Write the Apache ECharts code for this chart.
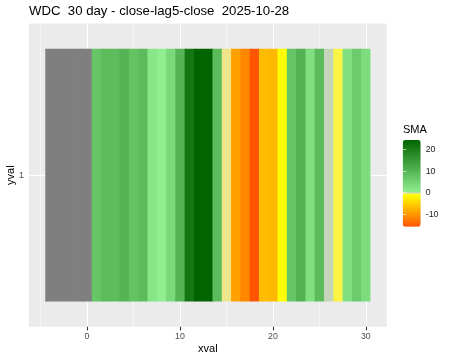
<!DOCTYPE html>
<html>
<head>
<meta charset="utf-8">
<script src="https://cdn.jsdelivr.net/npm/echarts@6/dist/echarts.min.js"></script>
<style>html,body{margin:0;padding:0;background:#fff;}#c{width:450px;height:360px;}</style>
</head>
<body>
<div id="c"></div>
<script>
// ---- data ----
const titleText = 'WDC  30 day - close-lag5-close  2025-10-28';
const xvals = [1,2,3,4,5,6,7,8,9,10,11,12,13,14,15,16,17,18,19,20,21,22,23,24,25,26,27,28,29,30];
const smaVals = [7.3,9.0,8.8,10.2,7.8,9.0,1.7,0.3,3.9,10.2,21.1,24.5,24.4,9.0,-0.3,-9.3,-11.4,-15.8,-6.9,-7.2,-1.0,7.3,10.7,2.9,9.0,0.0,-0.6,2.9,6.3,3.4];
const naXvals = [-4,-3,-2,-1,0];
const yCat = 1;
const xTicks = [0,10,20,30];
const xMinorTicks = [-5,5,15,25];
const legendTicks = [-10,0,10,20];
const smaMin = -15.8, smaMax = 24.5;

// ---- colour scale stops ----
const stops = [[-15.8,'#ff5500'],[-1,'#ffff00'],[-0.6,'#fbf543'],[-0.3,'#f0e68c'],[0,'#c8d0c8'],[0.2,'#90ee90'],[24.5,'#006400']];
function hex2rgb(h){return [parseInt(h.substr(1,2),16),parseInt(h.substr(3,2),16),parseInt(h.substr(5,2),16)];}
function colAt(v){
  if (v<=stops[0][0]) return stops[0][1];
  for (let i=1;i<stops.length;i++){
    if (v<=stops[i][0]){
      const a=hex2rgb(stops[i-1][1]), b=hex2rgb(stops[i][1]);
      const t=(v-stops[i-1][0])/(stops[i][0]-stops[i-1][0]);
      const c=a.map((x,k)=>Math.round(x+(b[k]-x)*t));
      return 'rgb('+c.join(',')+')';
    }
  }
  return stops[stops.length-1][1];
}
const N = 405;
const palette = [];
for (let i=0;i<N;i++){ palette.push(colAt(smaMin+(smaMax-smaMin)*i/(N-1))); }

const tileData = xvals.map((x,i)=>[x,yCat,smaVals[i]]);
const naData = naXvals.map(x=>[x,yCat]);

function tile(params, api){
  const x = api.value(0), y = api.value(1);
  const p0 = api.coord([x-0.5, y+0.5]);
  const p1 = api.coord([x+0.5, y-0.5]);
  const fill = params.seriesIndex === 0 ? api.visual('color') : '#7f7f7f';
  const isLast = params.seriesIndex === 0 && params.dataIndex === params.dataInsideLength - 1;
  const extra = isLast ? 0 : 0.7;
  return {type:'rect', shape:{x:p0[0], y:p0[1], width:p1[0]-p0[0] + extra, height:p1[1]-p0[1]},
          style:{fill: fill}};
}

const FONT = 'Liberation Sans';
const panel = {left:29, top:23.5, right:63.3, bottom:33.3};
const lg = {left:402.7, top:140, width:18, height:86.7};

const chart = echarts.init(document.getElementById('c'), null, {renderer:'canvas'});
chart.setOption({
  animation:false,
  textStyle:{fontFamily:FONT},
  title:[
    {text:titleText, left:29, top:4.5, padding:0, textStyle:{fontFamily:FONT, fontSize:13.2, fontWeight:'normal', color:'#000'}},
    {text:'SMA', left:403, top:124.5, padding:0, textStyle:{fontFamily:FONT, fontSize:11, fontWeight:'normal', color:'#000'}}
  ],
  grid:[
    {left:panel.left, top:panel.top, right:panel.right, bottom:panel.bottom, show:true, backgroundColor:'#ebebeb', borderWidth:0, containLabel:false, outerBoundsMode:'none'},
    {left:lg.left, top:lg.top, width:lg.width, height:lg.height, show:false, containLabel:false, outerBoundsMode:'none'}
  ],
  xAxis:[
    {type:'value', gridIndex:0, min:-6.25, max:32.25,
     name:'xval', nameLocation:'middle', nameGap:17, nameMoveOverlap:false, nameTextStyle:{fontFamily:FONT, fontSize:11, color:'#000'},
     axisLine:{show:false},
     axisTick:{show:true, length:3.7, lineStyle:{color:'#333333', width:1.07}, customValues:xTicks},
     axisLabel:{show:true, margin:5, fontSize:8.8, color:'#4d4d4d', fontFamily:FONT, customValues:xTicks},
     splitLine:{show:true, lineStyle:{color:'#ffffff', width:1.07}}
    },
    {type:'value', gridIndex:0, min:-6.25, max:32.25, position:'bottom',
     axisLine:{show:false},
     axisTick:{show:false, customValues:xMinorTicks},
     axisLabel:{show:false, customValues:xMinorTicks},
     splitLine:{show:true, lineStyle:{color:'#ffffff', width:0.53}}
    },
    {type:'value', gridIndex:1, min:0, max:1, show:false}
  ],
  yAxis:[
    {type:'value', gridIndex:0, min:0.4, max:1.6,
     name:'yval', nameLocation:'middle', nameGap:13, nameRotate:90, nameMoveOverlap:false, nameTextStyle:{fontFamily:FONT, fontSize:11, color:'#000'},
     axisLine:{show:false},
     axisTick:{show:true, length:3.7, lineStyle:{color:'#333333', width:1.07}, customValues:[yCat]},
     axisLabel:{show:true, margin:5, fontSize:8.8, color:'#4d4d4d', fontFamily:FONT, customValues:[yCat]},
     splitLine:{show:true, lineStyle:{color:'#ffffff', width:1.07}}
    },
    {type:'value', gridIndex:1, min:smaMin, max:smaMax, position:'right', z:20,
     axisLine:{show:false},
     axisTick:{show:true, inside:true, length:3.6, lineStyle:{color:'#ffffff', width:0.6}, customValues:legendTicks},
     axisLabel:{show:true, margin:5, fontSize:8.8, color:'#1a1a1a', fontFamily:FONT, customValues:legendTicks},
     splitLine:{show:false}
    },
    {type:'value', gridIndex:1, min:smaMin, max:smaMax, position:'left', z:20,
     axisLine:{show:false},
     axisTick:{show:true, inside:true, length:3.6, lineStyle:{color:'#ffffff', width:0.6}, customValues:legendTicks},
     axisLabel:{show:false, customValues:legendTicks},
     splitLine:{show:false}
    }
  ],
  visualMap:{
    type:'continuous', min:smaMin, max:smaMax, dimension:2, seriesIndex:0,
    calculable:false, hoverLink:false, realtime:false,
    left:lg.left, top:lg.top, itemWidth:lg.width, itemHeight:lg.height, padding:0,
    text:null, showLabel:false,
    inRange:{color:palette}
  },
  series:[
    {type:'custom', xAxisIndex:0, yAxisIndex:0, renderItem:tile, data:tileData, z:6, encode:{x:0, y:1}},
    {type:'custom', xAxisIndex:0, yAxisIndex:0, renderItem:tile, data:naData, z:5, encode:{x:0, y:1}}
  ]
});
</script>
</body>
</html>
